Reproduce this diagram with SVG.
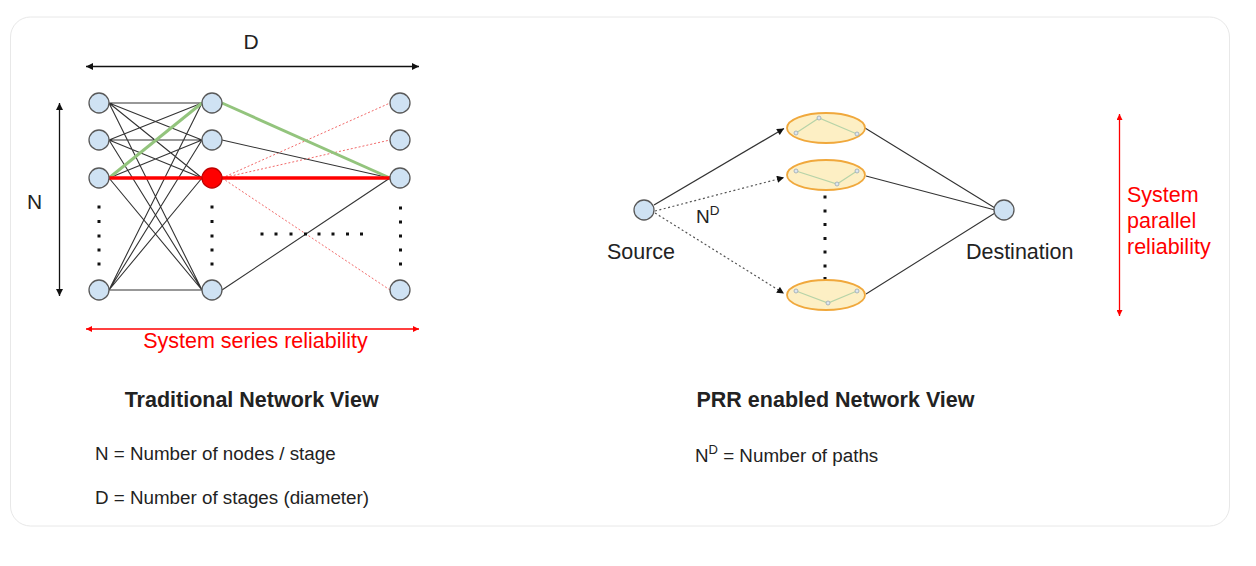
<svg xmlns="http://www.w3.org/2000/svg" width="1256" height="566" viewBox="0 0 1256 566">
<style>
  text { font-family: "Liberation Sans", Arial, sans-serif; fill: #222; }
  .lbl { font-size: 21.5px; }
  .small { font-size: 18.8px; }
  .title { font-size: 21.5px; font-weight: bold; }
  .red { fill: #ff0000; }
  .node { fill: #cfe2f3; stroke: #595959; stroke-width: 1.3; }
  .rednode { fill: #ff0000; stroke: #c00000; stroke-width: 1.3; }
  .edge { stroke: #333; stroke-width: 1.1; fill: none; }
  .green { stroke: #93c47d; stroke-width: 3; fill: none; }
  .redline { stroke: #ff0000; stroke-width: 3.5; fill: none; }
  .reddot { stroke: #f26a6a; stroke-width: 1; stroke-dasharray: 2 2; fill: none; }
  .dotted { stroke: #555; stroke-width: 1.2; stroke-dasharray: 2 2.5; fill: none; }
  .dot { fill: #111; }
  .ell { fill: #fdefc4; stroke: #f0a83c; stroke-width: 1.8; }
  .inner { stroke: #b7d3a8; stroke-width: 1.2; fill: none; }
  .mini { fill: #dde6ee; stroke: #9aa8b3; stroke-width: 0.8; }
</style>
<defs>
  <marker id="ah" viewBox="0 0 10 10" refX="10" refY="5" markerWidth="8" markerHeight="7" markerUnits="userSpaceOnUse" orient="auto-start-reverse">
    <path d="M0,0 L10,5 L0,10 z" fill="#111"/>
  </marker>
  <marker id="ahr" viewBox="0 0 10 10" refX="10" refY="5" markerWidth="8" markerHeight="6" markerUnits="userSpaceOnUse" orient="auto-start-reverse">
    <path d="M0,0 L10,5 L0,10 z" fill="#ff0000"/>
  </marker>
</defs>
<rect x="0" y="0" width="1256" height="566" fill="#ffffff"/>
<rect id="card" x="10.5" y="17" width="1219" height="509" rx="20" ry="20" fill="#ffffff" stroke="#e8e8e8" stroke-width="1"/>

<g id="connectors">
  <path class="edge" d="M109,103 L202,103 M109,103 L202,140 M109,103 L202,178 M109,103 L202,290
                         M109,140 L202,103 M109,140 L202,140 M109,140 L202,178 M109,140 L202,290
                         M109,178 L202,140 M109,178 L202,290
                         M109,290 L202,103 M109,290 L202,140 M109,290 L202,178 M109,290 L202,290"/>
  <path class="green" d="M109,178 L202,103"/>
  <path class="redline" d="M109,178 L202,178"/>
  <path class="reddot" d="M222,178 L390,103 M222,178 L390,140 M222,178 L390,290"/>
  <path class="edge" d="M222,140 L390,178 M222,290 L390,178"/>
  <path class="green" d="M222,103 L390,178"/>
  <path class="redline" d="M222,178 L390,178"/>
  <line x1="86" y1="66.5" x2="419" y2="66.5" stroke="#111" stroke-width="1.3" marker-start="url(#ah)" marker-end="url(#ah)"/>
  <line x1="59.5" y1="103" x2="59.5" y2="296" stroke="#111" stroke-width="1.3" marker-start="url(#ah)" marker-end="url(#ah)"/>
  <line x1="86" y1="329" x2="419" y2="329" stroke="#ff0000" stroke-width="1.3" marker-start="url(#ahr)" marker-end="url(#ahr)"/>
  <line x1="1119.5" y1="114" x2="1119.5" y2="316" stroke="#ff0000" stroke-width="1.3" marker-start="url(#ahr)" marker-end="url(#ahr)"/>
  <line x1="654" y1="205" x2="784" y2="128.5" stroke="#333" stroke-width="1.3" marker-end="url(#ah)"/>
  <line class="dotted" x1="655" y1="211" x2="784" y2="177.5" marker-end="url(#ah)"/>
  <line class="dotted" x1="655" y1="213" x2="784" y2="293.5" marker-end="url(#ah)"/>
  <path class="edge" stroke-width="1.3" d="M865,128 L995,208 M866,176 L995,210 M866,294 L995,213"/>
</g>

<g id="dots">
  <g class="dot">
    <rect x="97.5" y="205.5" width="3" height="3"/><rect x="97.5" y="220" width="3" height="3"/><rect x="97.5" y="234.5" width="3" height="3"/><rect x="97.5" y="248.5" width="3" height="3"/><rect x="97.5" y="262.5" width="3" height="3"/>
    <rect x="210.5" y="205.5" width="3" height="3"/><rect x="210.5" y="220" width="3" height="3"/><rect x="210.5" y="234.5" width="3" height="3"/><rect x="210.5" y="248.5" width="3" height="3"/><rect x="210.5" y="262.5" width="3" height="3"/>
    <rect x="399" y="206.5" width="3" height="3"/><rect x="399" y="220.5" width="3" height="3"/><rect x="399" y="234.5" width="3" height="3"/><rect x="399" y="248.5" width="3" height="3"/><rect x="399" y="262.5" width="3" height="3"/>
    <rect x="260.5" y="232.5" width="3" height="3"/><rect x="274.5" y="232.5" width="3" height="3"/><rect x="289.5" y="232.5" width="3" height="3"/><rect x="304" y="232.5" width="3" height="3"/><rect x="317.5" y="232.5" width="3" height="3"/><rect x="331.5" y="232.5" width="3" height="3"/><rect x="346" y="232.5" width="3" height="3"/><rect x="360" y="232.5" width="3" height="3"/>
    <rect x="823.5" y="195.5" width="3" height="3"/><rect x="823.5" y="209.5" width="3" height="3"/><rect x="823.5" y="223" width="3" height="3"/><rect x="823.5" y="237" width="3" height="3"/><rect x="823.5" y="250.5" width="3" height="3"/><rect x="823.5" y="264.5" width="3" height="3"/><rect x="823.5" y="277" width="3" height="3"/>
  </g>
</g>

<g id="n-l1"><circle class="node" cx="99" cy="103" r="10"/></g>
<g id="n-l2"><circle class="node" cx="99" cy="140" r="10"/></g>
<g id="n-l3"><circle class="node" cx="99" cy="178" r="10"/></g>
<g id="n-l4"><circle class="node" cx="99" cy="290" r="10"/></g>
<g id="n-m1"><circle class="node" cx="212" cy="103" r="10"/></g>
<g id="n-m2"><circle class="node" cx="212" cy="140" r="10"/></g>
<g id="n-m3"><circle class="rednode" cx="212" cy="178" r="10"/></g>
<g id="n-m4"><circle class="node" cx="212" cy="290" r="10"/></g>
<g id="n-r1"><circle class="node" cx="400" cy="103" r="10"/></g>
<g id="n-r2"><circle class="node" cx="400" cy="140" r="10"/></g>
<g id="n-r3"><circle class="node" cx="400" cy="178" r="10"/></g>
<g id="n-r4"><circle class="node" cx="400" cy="290" r="10"/></g>

<g id="source"><circle class="node" cx="644" cy="210" r="10"/><text class="lbl" x="641" y="259.3" text-anchor="middle">Source</text></g>
<g id="destination"><circle class="node" cx="1004" cy="210" r="10"/><text class="lbl" x="1019.7" y="259.3" text-anchor="middle">Destination</text></g>

<g id="path1">
  <ellipse class="ell" cx="826" cy="128" rx="39" ry="15"/>
  <polyline class="inner" points="796,133 819,118 857,134"/>
  <circle class="mini" cx="796" cy="133" r="2"/><circle class="mini" cx="819" cy="118" r="2"/><circle class="mini" cx="857" cy="134" r="2"/>
</g>
<g id="path2">
  <ellipse class="ell" cx="826" cy="175" rx="39" ry="15"/>
  <polyline class="inner" points="796,171 837,184 857,171"/>
  <circle class="mini" cx="796" cy="171" r="2"/><circle class="mini" cx="837" cy="184" r="2"/><circle class="mini" cx="857" cy="171" r="2"/>
</g>
<g id="path3">
  <ellipse class="ell" cx="826" cy="295" rx="39" ry="15"/>
  <polyline class="inner" points="796,291 828,303 857,291"/>
  <circle class="mini" cx="796" cy="291" r="2"/><circle class="mini" cx="828" cy="303" r="2"/><circle class="mini" cx="857" cy="291" r="2"/>
</g>

<g id="labels">
  <text x="251" y="49" text-anchor="middle" style="font-size:21px">D</text>
  <text x="27" y="209" style="font-size:21px">N</text>
  <text class="lbl red" x="255.5" y="348.3" text-anchor="middle">System series reliability</text>
  <text x="696" y="223.3" style="font-size:19px">N<tspan dy="-8.5" style="font-size:13.5px">D</tspan></text>
  <text class="lbl red" x="1127" y="201.7">System</text>
  <text class="lbl red" x="1127" y="228">parallel</text>
  <text class="lbl red" x="1127" y="254">reliability</text>
  <text class="title" x="251.7" y="406.7" text-anchor="middle">Traditional Network View</text>
  <text class="title" x="835.5" y="406.7" text-anchor="middle">PRR enabled Network View</text>
  <text class="small" x="95" y="460">N = Number of nodes / stage</text>
  <text class="small" x="95" y="503.5">D = Number of stages (diameter)</text>
  <text class="small" x="695" y="461.7">N<tspan dy="-8" style="font-size:13px">D</tspan><tspan dy="8"> = Number of paths</tspan></text>
</g>
</svg>
